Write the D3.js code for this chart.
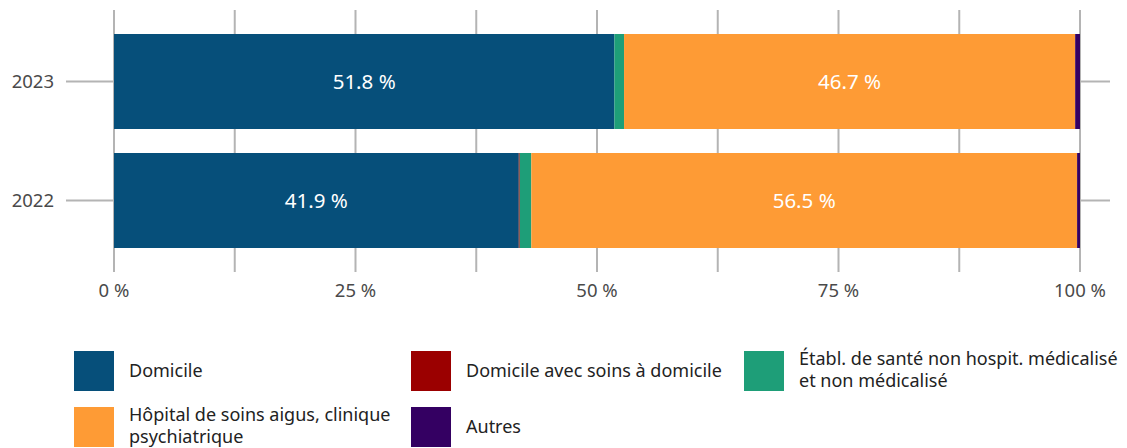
<!DOCTYPE html>
<html>
<head>
<meta charset="utf-8">
<script src="https://cdn.jsdelivr.net/npm/d3@7"></script>
<style>
  body { margin: 0; background: #fff; }
  svg text { font-family: "Noto Sans", "Open Sans", sans-serif; }
</style>
</head>
<body>
<div id="chart"></div>
<script>
// data
const years = ["2023", "2022"];
const categories = [
  "Domicile",
  "Domicile avec soins à domicile",
  "Établ. de santé non hospit. médicalisé et non médicalisé",
  "Hôpital de soins aigus, clinique psychiatrique",
  "Autres"
];
const domicile      = [51.8, 41.9];
const domicileSoins = [0.0, 0.1];
const etabl         = [1.0, 1.2];
const hopital       = [46.7, 56.5];
const autres        = [0.5, 0.3];
const xTicks = [0, 25, 50, 75, 100];
const legendLines = [
  ["Domicile"],
  ["Domicile avec soins à domicile"],
  ["Établ. de santé non hospit. médicalisé", "et non médicalisé"],
  ["Hôpital de soins aigus, clinique", "psychiatrique"],
  ["Autres"]
];

const COLORS = ["#064f7a", "#9b0000", "#1e9e78", "#fe9b35", "#340062"];
const series = [domicile, domicileSoins, etabl, hopital, autres];

const width = 1127, height = 448;
const svg = d3.select("#chart").append("svg")
  .attr("width", width).attr("height", height);

const x = d3.scaleLinear().domain([0, 100]).range([114, 1080]);
const y = d3.scaleBand().domain(years).range([22.1, 259.9]).paddingInner(0.2017).paddingOuter(0.1);

// grid lines (every 12.5 %)
svg.append("g").selectAll("line")
  .data(d3.range(0, 100.1, 12.5))
  .enter().append("line")
  .attr("x1", d => x(d)).attr("x2", d => x(d))
  .attr("y1", 10).attr("y2", 272)
  .attr("stroke", "#b4b4b4").attr("stroke-width", 2);

// y ticks
const yt = svg.append("g");
const yc = d => y(d) + y.bandwidth() / 2;
yt.selectAll("line.l").data(years).enter().append("line")
  .attr("x1", 66).attr("x2", 113)
  .attr("y1", yc).attr("y2", yc)
  .attr("stroke", "#b4b4b4").attr("stroke-width", 2);
yt.selectAll("line.r").data(years).enter().append("line")
  .attr("x1", 1081).attr("x2", 1110)
  .attr("y1", yc).attr("y2", yc)
  .attr("stroke", "#b4b4b4").attr("stroke-width", 2);
yt.selectAll("text").data(years).enter().append("text")
  .attr("x", 54).attr("y", yc)
  .attr("dy", "0.35em").attr("text-anchor", "end")
  .attr("font-size", 18.5).attr("fill", "#4a4a4a")
  .text(d => d);

// x labels
svg.append("g").selectAll("text").data(xTicks).enter().append("text")
  .attr("x", d => x(d)).attr("y", 297)
  .attr("text-anchor", "middle")
  .attr("font-size", 18.5).attr("fill", "#4a4a4a")
  .text(d => d + " %");

// stacked bars
const rows = years.map((yr, i) => {
  const r = { year: yr };
  categories.forEach((c, j) => r[c] = series[j][i]);
  return r;
});
const stacked = d3.stack().keys(categories)(rows);

const layers = svg.append("g").selectAll("g")
  .data(stacked).enter().append("g")
  .attr("fill", (d, i) => COLORS[i]);

layers.selectAll("rect")
  .data(d => d).enter().append("rect")
  .attr("x", d => x(d[0]))
  .attr("width", d => x(d[1]) - x(d[0]))
  .attr("y", d => y(d.data.year))
  .attr("height", y.bandwidth());

// value labels for big segments
layers.selectAll("text")
  .data(d => d.filter(p => p[1] - p[0] > 10)).enter().append("text")
  .attr("x", d => (x(d[0]) + x(d[1])) / 2)
  .attr("y", d => y(d.data.year) + y.bandwidth() / 2)
  .attr("dy", "0.35em").attr("text-anchor", "middle")
  .attr("font-size", 20.5).attr("fill", "#fff")
  .text(d => (d[1] - d[0]).toFixed(1) + " %");

// legend
const legX = [74, 411, 744];
const legY = [351, 407];
const leg = svg.append("g").selectAll("g")
  .data(categories).enter().append("g")
  .attr("transform", (d, i) => `translate(${legX[i % 3]},${legY[Math.floor(i / 3)]})`);
leg.append("rect")
  .attr("width", 40).attr("height", 40)
  .attr("fill", (d, i) => COLORS[i]);
leg.append("text")
  .attr("font-size", 18).attr("fill", "#222")
  .each(function (d, i) {
    const lines = legendLines[i];
    const t = d3.select(this);
    const y0 = lines.length === 1 ? 26 : 14;
    lines.forEach((l, k) => {
      t.append("tspan").attr("x", 55).attr("y", y0 + k * 22).text(l);
    });
  });
</script>
</body>
</html>
